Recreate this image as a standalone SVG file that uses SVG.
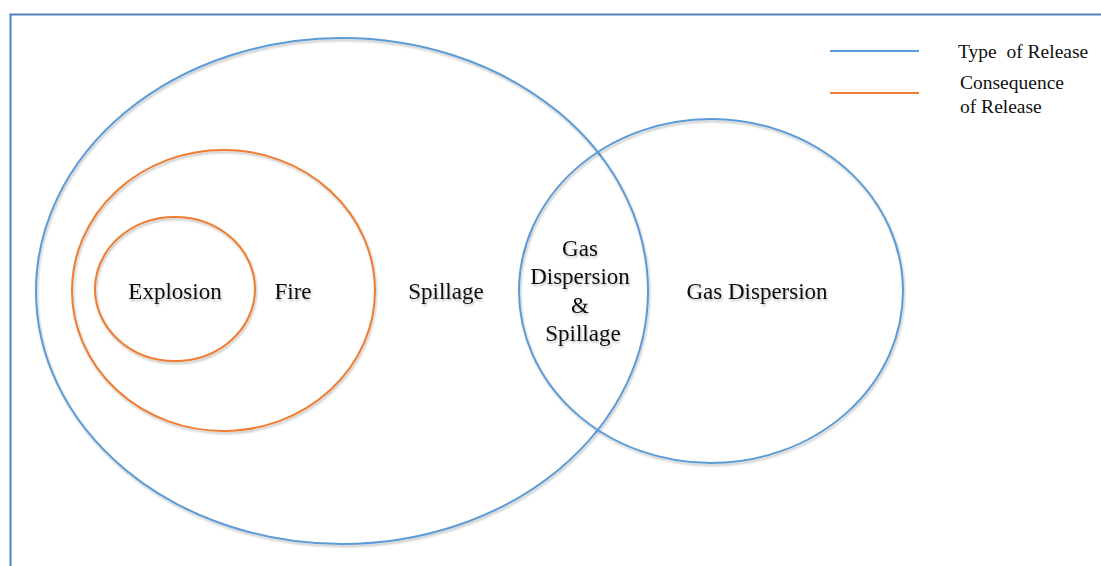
<svg xmlns="http://www.w3.org/2000/svg" width="1101" height="566" viewBox="0 0 1101 566">
<defs>
<filter id="sh" x="-10%" y="-10%" width="120%" height="120%">
<feDropShadow dx="1" dy="2" stdDeviation="1.2" flood-color="#000" flood-opacity="0.25"/>
</filter>
<style>
.blue{fill:none;stroke:#5b9bd5;stroke-width:2}
.orange{fill:none;stroke:#ed7d31;stroke-width:2}
.lbl{font-family:'Liberation Serif','DejaVu Serif',serif;font-size:23px;fill:#111;text-anchor:middle}
.leg{font-family:'Liberation Serif','DejaVu Serif',serif;font-size:19.5px;fill:#111}
</style>
</defs>
<rect width="1101" height="566" fill="#fff"/>
<path d="M10.5 566 V14.5 H1101" fill="none" stroke="#4f81bd" stroke-width="2"/>
<g id="spillage" filter="url(#sh)">
<ellipse class="blue" cx="342" cy="291" rx="306" ry="253"/>
<text class="lbl" x="446" y="299">Spillage</text>
</g>
<g id="gas-dispersion" filter="url(#sh)">
<ellipse class="blue" cx="711" cy="291" rx="192" ry="172"/>
<text class="lbl" x="757" y="299">Gas Dispersion</text>
</g>
<g id="overlap" filter="url(#sh)">
<text class="lbl" x="580" y="256">Gas</text>
<text class="lbl" x="580" y="284">Dispersion</text>
<text class="lbl" x="580" y="313">&amp;</text>
<text class="lbl" x="583" y="341">Spillage</text>
</g>
<g id="fire" filter="url(#sh)">
<ellipse class="orange" cx="223.5" cy="290.5" rx="151.5" ry="140.5"/>
<text class="lbl" x="293" y="299">Fire</text>
</g>
<g id="explosion" filter="url(#sh)">
<ellipse class="orange" cx="175" cy="289" rx="80" ry="72"/>
<text class="lbl" x="175" y="299">Explosion</text>
</g>
<g id="legend">
<line x1="830" y1="51" x2="919" y2="51" stroke="#5b9bd5" stroke-width="2"/>
<line x1="830" y1="93" x2="919" y2="93" stroke="#ed7d31" stroke-width="2"/>
<text class="leg" x="958" y="58" xml:space="preserve">Type  of Release</text>
<text class="leg" x="960" y="89">Consequence</text>
<text class="leg" x="960" y="113">of Release</text>
</g>
<g id="connectors"/>
</svg>
